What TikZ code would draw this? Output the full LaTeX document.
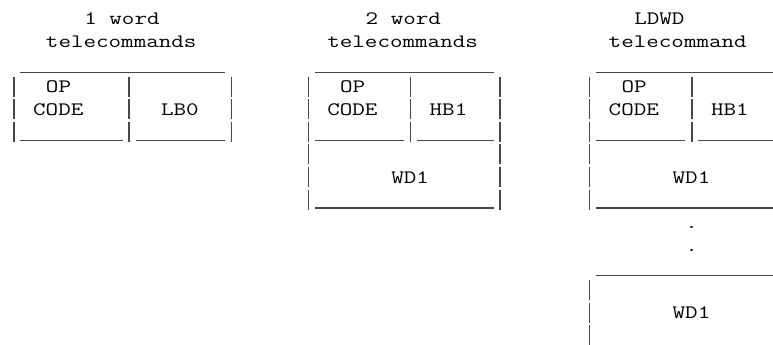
\documentclass[tikz,border=0pt]{standalone}
\usepackage{fontspec}
% monospaced cell text, widened to the grid pitch of the layout
\newcommand\wide[1]{\scalebox{1.282}[1]{#1}}
\tikzset{
  cell/.style={anchor=base west, inner sep=0pt, outer sep=0pt, text=black,
               font=\ttfamily\fontsize{19}{22.6}\selectfont},
  rule/.style={draw=black!72, line width=1.2pt},
  bar/.style={draw=black!72, line width=1.3pt, dash pattern=on 20pt off 2.6pt},
}
\begin{document}
\begin{tikzpicture}[x=1pt, y=1pt]
  \useasboundingbox (0,0) rectangle (773,-345);
  \clip (0,0) rectangle (773,-345);

  % titles
  \node[cell] (t1a) at (84.34,-25.0)  {\wide{1 word}};
  \node[cell] (t1b) at (45.97,-47.6)  {\wide{telecommands}};
  \node[cell] (t2a) at (365.72,-25.0) {\wide{2 word}};
  \node[cell] (t2b) at (327.35,-47.6) {\wide{telecommands}};
  \node[cell] (t3a) at (634.31,-25.0) {\wide{LDWD}};
  \node[cell] (t3b) at (608.73,-47.6) {\wide{telecommand}};

  % field labels
  \node[cell] (op1)   at (45.97,-92.8)   {\wide{OP}};
  \node[cell] (code1) at (33.18,-115.4)  {\wide{CODE}};
  \node[cell] (lb0)   at (161.08,-115.4) {\wide{LB0}};

  \node[cell] (op2)   at (340.14,-92.8)  {\wide{OP}};
  \node[cell] (code2) at (327.35,-115.4) {\wide{CODE}};
  \node[cell] (hb2)   at (429.67,-115.4) {\wide{HB1}};
  \node[cell] (wd2)   at (391.30,-183.2) {\wide{WD1}};

  \node[cell] (op3)   at (621.52,-92.8)  {\wide{OP}};
  \node[cell] (code3) at (608.73,-115.4) {\wide{CODE}};
  \node[cell] (hb3)   at (711.05,-115.4) {\wide{HB1}};
  \node[cell] (wd3a)  at (672.68,-183.2) {\wide{WD1}};
  \node[cell] (dot1)  at (685.47,-228.4) {\wide{.}};
  \node[cell] (dot2)  at (685.47,-251.0) {\wide{.}};
  \node[cell] (wd3b)  at (672.68,-318.8) {\wide{WD1}};

  % horizontal rules
  \draw[rule] (20.39,-72.4) -- (225.03,-72.4);
  \draw[rule] (314.56,-72.4) -- (493.62,-72.4);
  \draw[rule] (595.94,-72.4) -- (775.0,-72.4);

  \draw[rule] (20.39,-140.2) -- (122.71,-140.2);
  \draw[rule] (135.50,-140.2) -- (225.03,-140.2);
  \draw[rule] (314.56,-140.2) -- (404.09,-140.2);
  \draw[rule] (416.88,-140.2) -- (493.62,-140.2);
  \draw[rule] (595.94,-140.2) -- (685.47,-140.2);
  \draw[rule] (698.26,-140.2) -- (775.0,-140.2);

  \draw[rule] (314.56,-208.0) -- (493.62,-208.0);
  \draw[rule] (595.94,-208.0) -- (775.0,-208.0);

  \draw[rule] (595.94,-275.8) -- (775.0,-275.8);

  % vertical bars
  \draw[bar] (14.00,-76.5)  -- (14.00,-141.7);
  \draw[bar] (129.11,-76.5) -- (129.11,-141.7);
  \draw[bar] (231.43,-76.5) -- (231.43,-141.7);

  \draw[bar] (308.17,-76.5) -- (308.17,-209.5);
  \draw[bar] (410.49,-76.5) -- (410.49,-141.7);
  \draw[bar] (500.02,-76.5) -- (500.02,-209.5);

  \draw[bar] (589.55,-76.5) -- (589.55,-209.5);
  \draw[bar] (691.87,-76.5) -- (691.87,-141.7);
  \draw[bar] (589.55,-279.9) -- (589.55,-345.1);
\end{tikzpicture}
\end{document}
